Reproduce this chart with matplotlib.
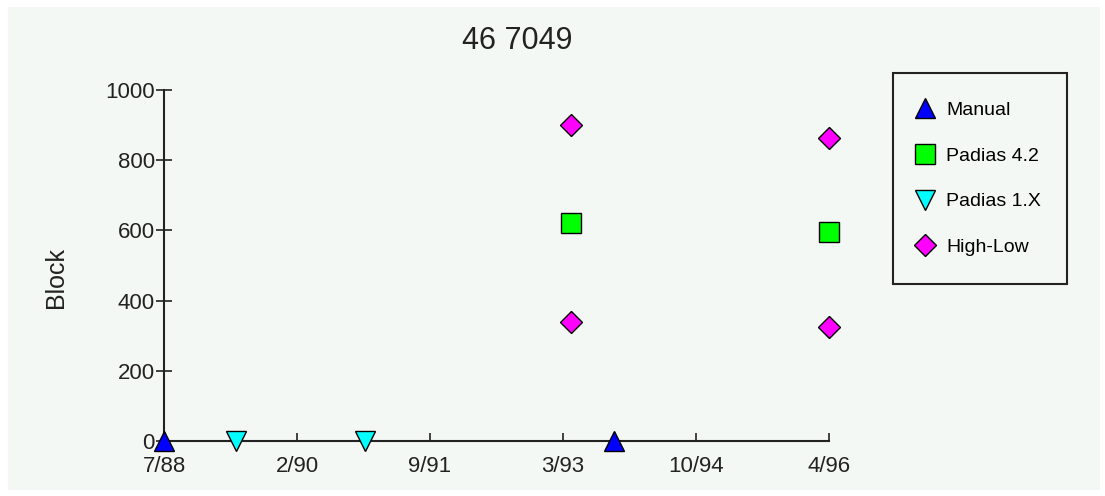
import matplotlib
matplotlib.use("Agg")
import matplotlib.pyplot as plt
from matplotlib.patches import Rectangle

# data (x in decimal years)
manual_x = [1988.5, 1993.74]
manual_y = [0, 0]
padias42_x = [1993.24, 1996.25]
padias42_y = [621, 595]
padias1x_x = [1989.34, 1990.84]
padias1x_y = [0, 0]
highlow_x = [1993.24, 1993.24, 1996.25, 1996.25]
highlow_y = [900, 339, 863, 325]

x_ticks = [1988.5, 1990.05, 1991.6, 1993.15, 1994.7, 1996.25]
x_labels = ["7/88", "2/90", "9/91", "3/93", "10/94", "4/96"]
y_ticks = [0, 200, 400, 600, 800, 1000]

plt.rcParams["font.family"] = ["Liberation Sans", "DejaVu Sans"]

W, H = 1105, 496
fig = plt.figure(figsize=(W / 100, H / 100), dpi=100, facecolor="white")
fig.patches.append(Rectangle((8 / W, 1 - 490 / H), (1100 - 8) / W, (490 - 7) / H,
                             transform=fig.transFigure, facecolor="#f4f8f5",
                             edgecolor="none", zorder=-10))

ax = fig.add_axes([164 / W, 1 - 441 / H, (829 - 164) / W, (441 - 90) / H])
ax.set_facecolor("none")
ax.set_xlim(1988.5, 1996.25)
ax.set_ylim(0, 1000)

style = dict(linestyle="none", markeredgecolor="black", markeredgewidth=1.0,
             clip_on=False, zorder=5)
ax.plot(manual_x, manual_y, marker="^", markersize=14, markerfacecolor="#0000ff",
        label="Manual", **style)
ax.plot(padias42_x, padias42_y, marker="s", markersize=14, markerfacecolor="#00ff00",
        label="Padias 4.2", **style)
ax.plot(padias1x_x, padias1x_y, marker="v", markersize=14, markerfacecolor="#00ffff",
        label="Padias 1.X", **style)
ax.plot(highlow_x, highlow_y, marker="D", markersize=11, markerfacecolor="#ff00ff",
        label="High-Low", **style)

for s in ["top", "right"]:
    ax.spines[s].set_visible(False)
for s in ["left", "bottom"]:
    ax.spines[s].set_linewidth(1.5)
    ax.spines[s].set_color("#222222")

ax.set_xticks(x_ticks)
ax.set_xticklabels(x_labels)
ax.set_yticks(y_ticks)
ax.tick_params(axis="x", direction="in", length=6, width=1.2, color="#222222",
               labelsize=16, pad=11, labelcolor="#222222")
ax.tick_params(axis="y", direction="inout", length=11, width=1.2, color="#222222",
               labelsize=16, pad=1, labelcolor="#222222")

fig.text(517 / W, 1 - 41 / H, "46 7049", fontsize=22, ha="center", va="center",
         color="#222222")
fig.text(56 / W, 1 - 278 / H, "Block", fontsize=18, rotation=90, ha="center",
         va="center", color="#222222")

leg = ax.legend(loc="upper left", bbox_to_anchor=(893 / W, 1 - 281 / H, 174 / W, 208 / H),
                bbox_transform=fig.transFigure, mode="expand", borderaxespad=0,
                fontsize=14, handlelength=0.4, handletextpad=0.88, borderpad=1.45,
                labelspacing=1.45, fancybox=False, framealpha=1, facecolor="#f4f8f5",
                edgecolor="#222222", numpoints=1)
leg.get_frame().set_linewidth(1.5)

fig.savefig("out.png", dpi=100, facecolor="white")
